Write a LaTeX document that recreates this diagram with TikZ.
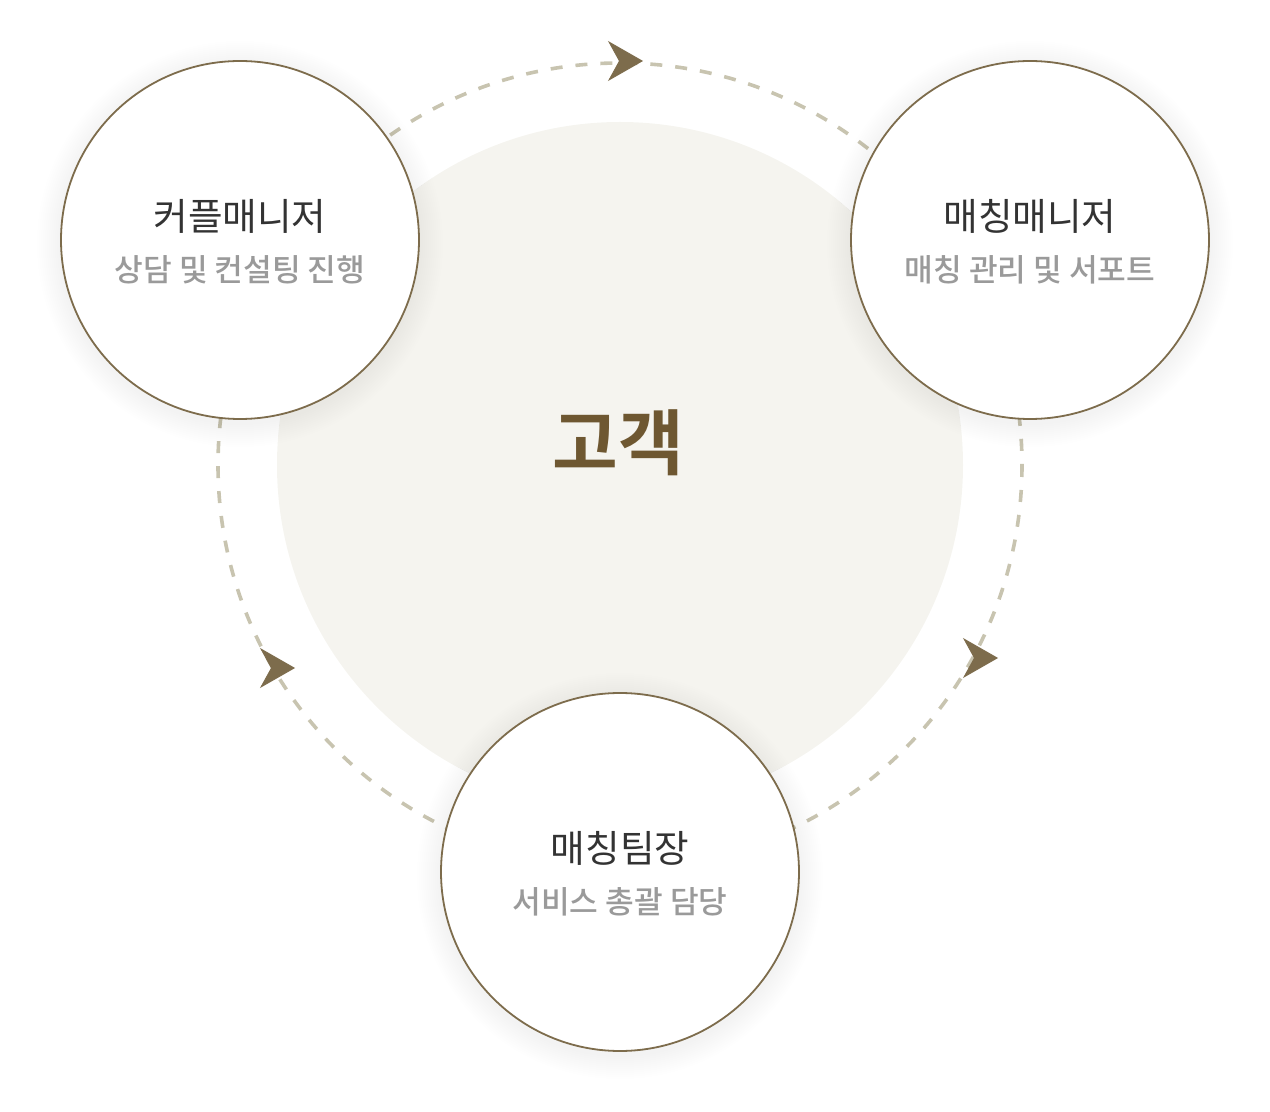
\documentclass[tikz,border=0pt]{standalone}
\usepackage{fontspec}
\newfontfamily\kr{Noto Sans CJK KR}
\newfontfamily\krm{Noto Sans CJK KR Medium}
\newfontfamily\krb{Noto Sans CJK KR Bold}
\usetikzlibrary{calc, arrows.meta}
\usepackage{xcolor}
\definecolor{c1}{HTML}{7D6C4C}
\definecolor{c2}{HTML}{F5F4EF}
\definecolor{c3}{HTML}{C8C4B0}
\definecolor{c4}{HTML}{333333}
\definecolor{c5}{HTML}{9A9A9A}
\definecolor{c6}{HTML}{6E5731}

\begin{document}
\begin{tikzpicture}[x=0.5pt, y=-0.5pt,
		role/.style={circle, draw=c1, line width=0.9pt, fill=white, minimum size=179pt, inner sep=0pt},
		title/.style={font=\kr\fontsize{18.8pt}{21pt}\selectfont, text=c4, inner sep=0pt},
		sub/.style={font=\krm\fontsize{15.6pt}{18pt}\selectfont, text=c5, inner sep=0pt},
		cyc/.style={c1, line width=0.4pt, -{Stealth[length=17.5pt, width=20pt, inset=5.5pt]}}]
	\useasboundingbox (0, 0) rectangle (1270, 1112);

	\def\r{179}
	\coordinate (x) at (620, 465);
	\fill[c2] (x) circle (343);
	\draw[c3, line width=1.8pt, dash pattern=on 6pt off 6.5pt] (x) circle (402);

	\coordinate (p1) at (240, 240);
	\coordinate (p2) at (1030, 240);
	\coordinate (p3) at (620, 872);

	\foreach \p in {p1, p2, p3} {
			\foreach \k in {1, ..., 12} {
					\fill[black, opacity=0.003] ($(\p) + (0, 4)$) circle (\r + 2*\k);
				}
		}

	\node[role] (cm) at (p1) {};
	\node[role] (mm) at (p2) {};
	\node[role] (tl) at (p3) {};

	\node[font=\krb\fontsize{35.7pt}{38pt}\selectfont, text=c6, inner sep=0pt] (gk) at (618, 443) {고객};

	\node[title] (cmt) at (240, 216) {커플매니저};
	\node[sub] (cms) at (240, 270) {상담 및 컨설팅 진행};
	\node[title] (mmt) at (1030, 216) {매칭매니저};
	\node[sub] (mms) at (1030, 270) {매칭 관리 및 서포트};
	\node[title] (tlt) at (620, 848) {매칭팀장};
	\node[sub] (tls) at (620, 902) {서비스 총괄 담당};

	\coordinate (a1) at (624, 61);
	\coordinate (b1) at (643, 61);
	\coordinate (a2) at (979, 658);
	\coordinate (b2) at (998, 658);
	\coordinate (a3) at (276, 668);
	\coordinate (b3) at (295, 668);
	\draw[cyc] (a1) -- (b1);
	\draw[cyc] (a2) -- (b2);
	\draw[cyc] (a3) -- (b3);
\end{tikzpicture}
\end{document}
